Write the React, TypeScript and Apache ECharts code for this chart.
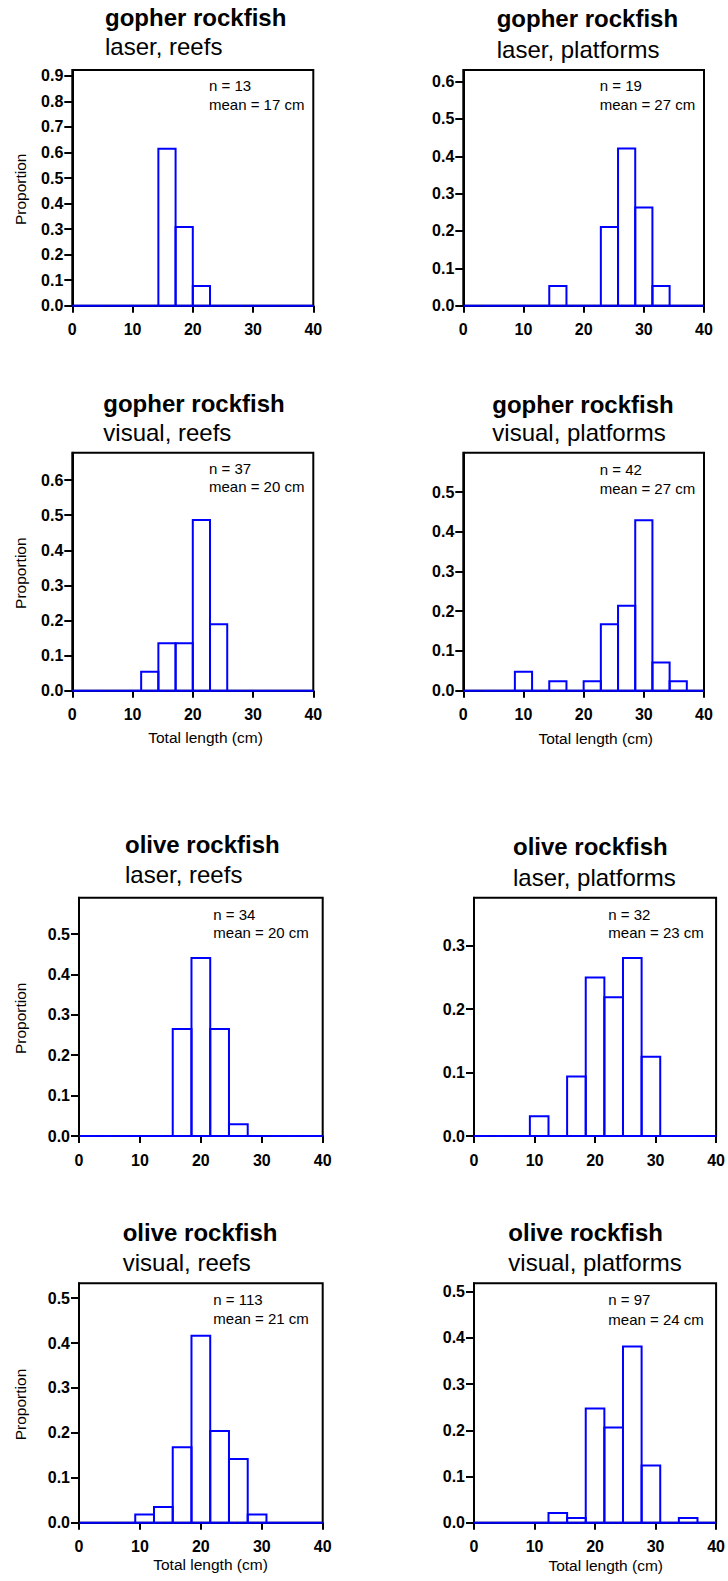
import React, { useEffect, useRef } from "react";
import * as echarts from "echarts";

// ---------- data ----------
const xTicks = [0, 10, 20, 30, 40];
const gopherBinCount = 14; // bins over 0–40 cm
const oliveBinCount = 13; // bins over 0–40 cm

// proportions per length bin
const gopherLaserReefs = [0, 0, 0, 0, 0, 0.615, 0.308, 0.077, 0, 0, 0, 0, 0, 0];
const gopherLaserPlatforms = [0, 0, 0, 0, 0, 0.053, 0, 0, 0.211, 0.421, 0.263, 0.053, 0, 0];
const gopherVisualReefs = [0, 0, 0, 0, 0.054, 0.135, 0.135, 0.486, 0.189, 0, 0, 0, 0, 0];
const gopherVisualPlatforms = [0, 0, 0, 0.048, 0, 0.024, 0, 0.024, 0.167, 0.214, 0.429, 0.071, 0.024, 0];
const oliveLaserReefs = [0, 0, 0, 0, 0, 0.265, 0.441, 0.265, 0.029, 0, 0, 0, 0];
const oliveLaserPlatforms = [0, 0, 0, 0.031, 0, 0.094, 0.25, 0.219, 0.281, 0.125, 0, 0, 0];
const oliveVisualReefs = [0, 0, 0, 0.018, 0.035, 0.168, 0.416, 0.204, 0.142, 0.018, 0, 0, 0];
const oliveVisualPlatforms = [0, 0, 0, 0, 0.021, 0.01, 0.247, 0.206, 0.381, 0.124, 0, 0.01, 0];

const yTicks09 = [0, 0.1, 0.2, 0.3, 0.4, 0.5, 0.6, 0.7, 0.8, 0.9];
const yTicks06 = [0, 0.1, 0.2, 0.3, 0.4, 0.5, 0.6];
const yTicks05 = [0, 0.1, 0.2, 0.3, 0.4, 0.5];
const yTicks03 = [0, 0.1, 0.2, 0.3];

const titles = ["gopher rockfish", "gopher rockfish", "gopher rockfish", "gopher rockfish", "olive rockfish", "olive rockfish", "olive rockfish", "olive rockfish"];
const subtitles = ["laser, reefs", "laser, platforms", "visual, reefs", "visual, platforms", "laser, reefs", "laser, platforms", "visual, reefs", "visual, platforms"];
const nLabels = ["n = 13", "n = 19", "n = 37", "n = 42", "n = 34", "n = 32", "n = 113", "n = 97"];
const meanLabels = ["mean = 17 cm", "mean = 27 cm", "mean = 20 cm", "mean = 27 cm", "mean = 20 cm", "mean = 23 cm", "mean = 21 cm", "mean = 24 cm"];
const panelData = [gopherLaserReefs, gopherLaserPlatforms, gopherVisualReefs, gopherVisualPlatforms, oliveLaserReefs, oliveLaserPlatforms, oliveVisualReefs, oliveVisualPlatforms];
const panelBins = [gopherBinCount, gopherBinCount, gopherBinCount, gopherBinCount, oliveBinCount, oliveBinCount, oliveBinCount, oliveBinCount];
const panelYMax = [0.923, 0.631, 0.678, 0.599, 0.59, 0.376, 0.533, 0.518];
const panelYTicks = [yTicks09, yTicks06, yTicks06, yTicks05, yTicks05, yTicks03, yTicks05, yTicks05];
const xAxisTitle = "Total length (cm)";
const yAxisTitle = "Proportion";

// ---------- layout (pixels) ----------
const layout = [
  { left: 72.3, top: 70, width: 241, height: 235.7, tx: 105, ty: 17.4, sy: 46, nx: 209, ny: 85.5, my: 104.1, prop: true, xname: null },
  { left: 463.3, top: 70, width: 240.7, height: 235.7, tx: 496.7, ty: 18.4, sy: 49, nx: 599.7, ny: 85.5, my: 104.1, prop: false, xname: null },
  { left: 72.3, top: 452.7, width: 241, height: 238, tx: 103.3, ty: 403.4, sy: 432.4, nx: 209, ny: 468.8, my: 486.5, prop: true, xname: [205.5, 737] },
  { left: 463.3, top: 452.7, width: 240.7, height: 238, tx: 492.3, ty: 404, sy: 432.7, nx: 599.7, ny: 469, my: 488, prop: false, xname: [595.7, 738] },
  { left: 79, top: 897.7, width: 243.7, height: 238.3, tx: 125, ty: 844, sy: 874, nx: 213.3, ny: 914, my: 932.5, prop: true, xname: null },
  { left: 474, top: 897.7, width: 244, height: 238.3, tx: 513, ty: 846.7, sy: 877.7, nx: 608.3, ny: 914, my: 932.5, prop: false, xname: null },
  { left: 79, top: 1283.3, width: 243.7, height: 239.4, tx: 122.7, ty: 1232.4, sy: 1262.7, nx: 213.3, ny: 1299, my: 1318, prop: true, xname: [210.5, 1564.5] },
  { left: 474, top: 1283.3, width: 244, height: 239.4, tx: 508.3, ty: 1232.4, sy: 1262.7, nx: 608.3, ny: 1299, my: 1319, prop: false, xname: [605.7, 1565] },
];

const FONT = '"Liberation Sans", Arial, Helvetica, sans-serif';
const BLUE = "#0000ff";

function textEl(text: string, x: number, y: number, size: number, weight: string, align: string, rotation = 0) {
  return {
    type: "text",
    x,
    y,
    rotation,
    silent: true,
    style: {
      text,
      fill: "#000",
      fontSize: size,
      fontFamily: FONT,
      fontWeight: weight,
      align,
      textAlign: align,
      verticalAlign: "middle",
      textVerticalAlign: "middle",
    },
  };
}

function buildOption() {
  const grid: any[] = [];
  const xAxis: any[] = [];
  const yAxis: any[] = [];
  const series: any[] = [];
  const graphic: any[] = [];

  layout.forEach((L, i) => {
    grid.push({
      left: L.left,
      top: L.top,
      width: L.width,
      height: L.height,
      show: true,
      borderColor: "#000",
      borderWidth: 2,
      backgroundColor: "transparent",
      containLabel: false,
    });
    xAxis.push({
      type: "value",
      gridIndex: i,
      min: xTicks[0],
      max: xTicks[xTicks.length - 1],
      interval: 10,
      splitLine: { show: false },
      axisLine: { show: true, onZero: false, lineStyle: { color: "#000", width: 2 } },
      axisTick: { show: true, length: 7, lineStyle: { color: "#000", width: 2 }, customValues: xTicks },
      axisLabel: { show: true, color: "#000", fontSize: 16, fontWeight: "bold", fontFamily: FONT, margin: 16, customValues: xTicks },
    });
    const yt = panelYTicks[i];
    yAxis.push({
      type: "value",
      gridIndex: i,
      min: 0,
      max: panelYMax[i],
      interval: 0.1,
      splitLine: { show: false },
      axisLine: { show: true, onZero: false, lineStyle: { color: "#000", width: 2 } },
      axisTick: { show: true, length: 8, lineStyle: { color: "#000", width: 2 }, customValues: yt },
      axisLabel: {
        show: true,
        color: "#000",
        fontSize: 16,
        fontWeight: "bold",
        fontFamily: FONT,
        margin: 9,
        customValues: yt,
        formatter: (v: number) => v.toFixed(1),
      },
    });
    const binW = (xTicks[xTicks.length - 1] - xTicks[0]) / panelBins[i];
    const data = panelData[i].map((v, k) => [xTicks[0] + k * binW, xTicks[0] + (k + 1) * binW, v]);
    series.push({
      type: "custom",
      xAxisIndex: i,
      yAxisIndex: i,
      clip: false,
      silent: true,
      encode: { x: [0, 1], y: 2 },
      data,
      renderItem: (params: any, api: any) => {
        const p0 = api.coord([api.value(0), api.value(2)]);
        const p1 = api.coord([api.value(1), 0]);
        return {
          type: "rect",
          shape: { x: p0[0], y: p0[1], width: p1[0] - p0[0], height: p1[1] - p0[1] },
          style: { fill: "none", stroke: BLUE, lineWidth: 2 },
        };
      },
    });

    graphic.push(textEl(titles[i], L.tx, L.ty, 24, "bold", "left"));
    graphic.push(textEl(subtitles[i], L.tx, L.sy, 24, "normal", "left"));
    graphic.push(textEl(nLabels[i], L.nx, L.ny, 15, "normal", "left"));
    graphic.push(textEl(meanLabels[i], L.nx, L.my, 15, "normal", "left"));
    if (L.prop) {
      graphic.push(textEl(yAxisTitle, 20.5, L.top + L.height / 2 + 1.5, 15.5, "normal", "center", Math.PI / 2));
    }
    if (L.xname) {
      graphic.push(textEl(xAxisTitle, L.xname[0], L.xname[1], 15.5, "normal", "center"));
    }
  });

  return {
    animation: false,
    backgroundColor: "#fff",
    textStyle: { fontFamily: FONT },
    grid,
    xAxis,
    yAxis,
    series,
    graphic: { elements: graphic },
  };
}

export default function App() {
  const ref = useRef<HTMLDivElement>(null);
  useEffect(() => {
    if (!ref.current) return;
    const chart = echarts.init(ref.current, undefined, { renderer: "svg" });
    chart.setOption(buildOption() as any);
    return () => chart.dispose();
  }, []);
  return (
    <div
      ref={ref}
      style={{ position: "absolute", left: 0, top: 0, width: 728, height: 1581, background: "#fff" }}
    />
  );
}
